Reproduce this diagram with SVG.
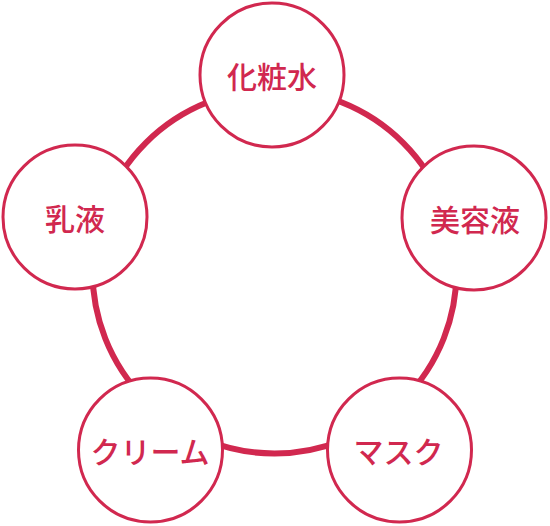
<svg xmlns="http://www.w3.org/2000/svg" width="550" height="526" viewBox="0 0 550 526">
<style>
.node{fill:#ffffff;stroke:#d1284f;stroke-width:3}
.lbl{fill:#d1284f;font-family:"Noto Sans CJK JP","Noto Sans CJK SC",sans-serif;font-size:30px;font-weight:500;text-anchor:middle;dominant-baseline:central}
.ring{fill:none;stroke:#d1284f;stroke-width:6}
</style>
<rect width="550" height="526" fill="#ffffff"/>
<g id="connectors">
<circle class="ring" cx="274.5" cy="271.5" r="182"/>
</g>
<g id="node-keshousui">
<circle class="node" cx="272" cy="75" r="72"/>
<text class="lbl" x="272" y="75">化粧水</text>
</g>
<g id="node-biyoueki">
<circle class="node" cx="474" cy="218" r="72"/>
<text class="lbl" x="475" y="218">美容液</text>
</g>
<g id="node-nyueki">
<circle class="node" cx="75" cy="217" r="72"/>
<text class="lbl" x="75" y="217">乳液</text>
</g>
<g id="node-cream">
<circle class="node" cx="150.5" cy="450" r="72"/>
<text class="lbl" x="150" y="450">クリーム</text>
</g>
<g id="node-mask">
<circle class="node" cx="399.5" cy="450" r="72"/>
<text class="lbl" x="398.5" y="450">マスク</text>
</g>
</svg>
